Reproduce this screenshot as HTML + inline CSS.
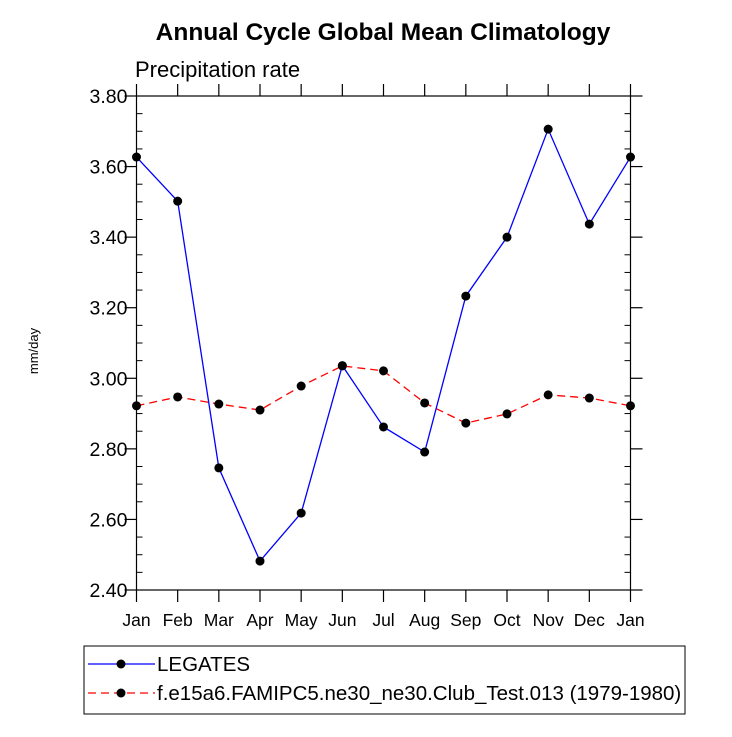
<!DOCTYPE html>
<html><head><style>
body{margin:0;background:#fff;}
svg{font-family:"Liberation Sans",Arial,sans-serif;}
</style></head><body>
<svg id="c" width="732" height="732">
<text x="383" y="40" text-anchor="middle" font-size="24.5" font-weight="bold">Annual Cycle Global Mean Climatology</text>
<text x="135" y="77" font-size="22">Precipitation rate</text>
<text transform="translate(38,351) rotate(-90)" text-anchor="middle" font-size="13">mm/day</text>
<g id="ax"></g>
<g id="series"></g>
<rect x="84" y="646" width="601" height="68" fill="none" stroke="#000" stroke-width="1"/>
<g>
<line x1="88" y1="664" x2="155" y2="664" stroke="#00f" stroke-width="1.3"/>
<circle cx="121" cy="664" r="4.5" fill="#000"/>
<text x="157" y="671" font-size="20.5">LEGATES</text>
</g>
<g>
<line x1="88" y1="693" x2="155" y2="693" stroke="#f00" stroke-width="1.3" stroke-dasharray="8,5"/>
<circle cx="121" cy="693" r="4.5" fill="#000"/>
<text x="157" y="700" font-size="20.5">f.e15a6.FAMIPC5.ne30_ne30.Club_Test.013 (1979-1980)</text>
</g>
</svg>
<script>
const months=["Jan","Feb","Mar","Apr","May","Jun","Jul","Aug","Sep","Oct","Nov","Dec","Jan"];
const legates=[3.627,3.502,2.746,2.482,2.618,3.036,2.862,2.791,3.233,3.400,3.706,3.437,3.627];
const model=[2.922,2.947,2.927,2.910,2.978,3.035,3.021,2.930,2.873,2.899,2.953,2.944,2.922];
const yTicks=[2.40,2.60,2.80,3.00,3.20,3.40,3.60,3.80];
const L=136.5,R=630.5,T=96,B=590,ymin=2.4,ymax=3.8;
const sx=i=>L+i*(R-L)/12;
const sy=v=>B-(v-ymin)/(ymax-ymin)*(B-T);
const NS="http://www.w3.org/2000/svg";
function mk(tag,attrs,parent){const e=document.createElementNS(NS,tag);for(const k in attrs)e.setAttribute(k,attrs[k]);parent.appendChild(e);return e;}
const ax=document.getElementById('ax');
const frame=mk('rect',{x:L,y:T,width:R-L,height:B-T,fill:'none',stroke:'#000','stroke-width':1.2},ax);


for(let v=ymin;v<=ymax+1e-9;v+=0.05){
  const y=sy(v);const major=Math.abs(Math.round(v*5)-v*5)<1e-6;
  if(major){mk('line',{x1:L-12,y1:y,x2:L,y2:y,stroke:'#000','stroke-width':1.2},ax);mk('line',{x1:R,y1:y,x2:R+12,y2:y,stroke:'#000','stroke-width':1.2},ax);}
  else{mk('line',{x1:L,y1:y,x2:L+6,y2:y,stroke:'#000','stroke-width':1},ax);mk('line',{x1:R-6,y1:y,x2:R,y2:y,stroke:'#000','stroke-width':1},ax);}
}
yTicks.forEach(v=>{const t=mk('text',{x:L-9,y:sy(v)+7,'text-anchor':'end','font-size':19.5},ax);t.textContent=v.toFixed(2);

});
months.forEach((m,i)=>{const x=sx(i);
mk('line',{x1:x,y1:B,x2:x,y2:B+12,stroke:'#000','stroke-width':1.2},ax);
mk('line',{x1:x,y1:T-12,x2:x,y2:T,stroke:'#000','stroke-width':1.2},ax);
const t=mk('text',{x:x,y:B+36,'text-anchor':'middle','font-size':17.5},ax);t.textContent=m;

});
const sg=document.getElementById('series');
function draw(vals,color,dash,name){
  const g=mk('g',{},sg);
  
  
  const pts=vals.map((v,i)=>sx(i)+','+sy(v)).join(' ');
  const a={points:pts,fill:'none',stroke:color,'stroke-width':1.3};if(dash)a['stroke-dasharray']=dash;
  mk('polyline',a,g);
  vals.forEach((v,i)=>{const c=mk('circle',{cx:sx(i),cy:sy(v),r:4.5,fill:'#000'},g);
  
  });
}
draw(model,'#f00','8,5','series-model');
draw(legates,'#00f',null,'series-legates');
</script>
</body></html>
